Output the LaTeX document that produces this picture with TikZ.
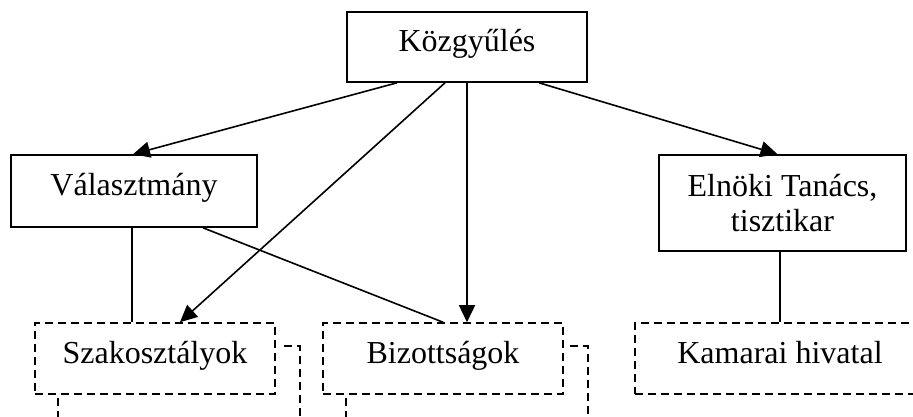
\documentclass[tikz,border=0pt]{standalone}
\usepackage{fontspec}
\setmainfont{Liberation Serif}
\usetikzlibrary{arrows.meta,calc}
\begin{document}
\begin{tikzpicture}[x=1pt,y=-1pt,
  every node/.style={font=\fontsize{32}{35}\selectfont},
  solidbox/.style={draw,line width=1.6pt,inner sep=0pt,align=center},
  oneline/.style={text height=20pt,text depth=11pt},
  dashbox/.style={draw,line width=1.6pt,inner sep=0pt,dash pattern=on 8pt off 5pt,text height=20pt,text depth=11pt},
  dashline/.style={line width=1.6pt,dash pattern=on 8pt off 5pt},
  conn/.style={line width=1.6pt},
  arr/.style={line width=1.6pt,-{Triangle[length=17pt,width=16pt]}}]
\clip (0,0) rectangle (913,416);
\node[solidbox,oneline,minimum width=240pt,minimum height=70pt] (koz) at (467,47) {Közgyűlés};
\node[solidbox,oneline,minimum width=246pt,minimum height=72pt] (val) at (134,191) {Választmány};
\node[solidbox,minimum width=247pt,minimum height=96pt] (eln) at (782.5,203) {Elnöki Tanács,\\tisztikar};
\node[dashbox,minimum width=240pt,minimum height=71pt] (sz) at (155,358.5) {Szakosztályok};
\node[dashbox,minimum width=240pt,minimum height=71pt] (biz) at (443,358.5) {Bizottságok};
\node[dashbox,minimum width=290pt,minimum height=71pt] (kam) at (780,358.5) {Kamarai hivatal};
% back boxes (partially hidden)
\draw[dashline] ([shift={(8,24)}]sz.north east) -- ([shift={(24,24)}]sz.north east) -- ([shift={(24,40)}]sz.south east);
\draw[dashline] ([shift={(24,3)}]sz.south west) -- ([shift={(24,40)}]sz.south west);
\draw[dashline] ([shift={(6,24)}]biz.north east) -- ([shift={(24,24)}]biz.north east) -- ([shift={(24,40)}]biz.south east);
\draw[dashline] ([shift={(24,3)}]biz.south west) -- ([shift={(24,40)}]biz.south west);
% connectors
\draw[arr] ([xshift=-70pt]koz.south) -- ([xshift=-1pt]val.north);
\draw[arr] ([xshift=-22pt]koz.south) -- ([xshift=25pt]sz.north);
\draw[arr] (koz.south) -- (koz.south |- biz.north);
\draw[arr] ([xshift=72pt]koz.south) -- ([xshift=-5pt]eln.north);
\draw[conn] ([xshift=-2pt]val.south) -- ([xshift=-2pt]val.south |- sz.north);
\draw[conn] ([xshift=69pt]val.south) -- (biz.north);
\draw[conn] (kam.north |- eln.south) -- (kam.north);
\end{tikzpicture}
\end{document}
